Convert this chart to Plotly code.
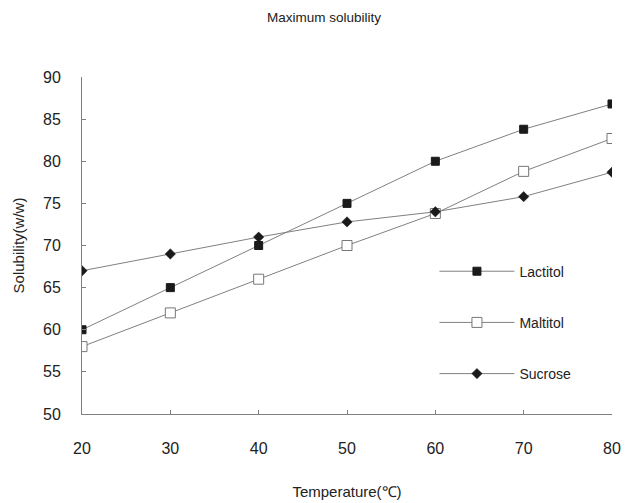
import plotly.graph_objects as go

temperature = [20, 30, 40, 50, 60, 70, 80]
lactitol = [60, 65, 70, 75, 80, 83.8, 86.8]
maltitol = [58, 62, 66, 70, 73.8, 78.8, 82.7]
sucrose = [67, 69, 71, 72.8, 74, 75.8, 78.7]

font_family = "Liberation Sans, Arial, sans-serif"
line_col = "#808080"

fig = go.Figure()
fig.add_trace(go.Scatter(
    x=temperature, y=lactitol, name="Lactitol", mode="lines+markers",
    legendgroup="a",
    line=dict(color=line_col, width=1),
    marker=dict(symbol="square", size=8, color="#1a1a1a", line=dict(color="#1a1a1a", width=1)),
))
fig.add_trace(go.Scatter(
    x=temperature, y=maltitol, name="Maltitol", mode="lines+markers",
    legendgroup="b",
    line=dict(color=line_col, width=1),
    marker=dict(symbol="square", size=10, color="white", line=dict(color="#777777", width=1)),
))
fig.add_trace(go.Scatter(
    x=temperature, y=sucrose, name="Sucrose", mode="lines+markers",
    legendgroup="c",
    line=dict(color=line_col, width=1),
    marker=dict(symbol="diamond", size=8, color="#1a1a1a", line=dict(color="#1a1a1a", width=0.5)),
))

fig.update_layout(
    width=632, height=503,
    margin=dict(l=74, r=28, t=69, b=97, autoexpand=False),
    paper_bgcolor="white", plot_bgcolor="white",
    font=dict(family=font_family, size=14, color="#222222"),
    title=dict(text="Maximum solubility", x=0.5, xanchor="center", y=0.99, yanchor="top",
               font=dict(size=13.5, color="#222222")),
    showlegend=True,
    legend=dict(x=0.665, y=0.47, xanchor="left", yanchor="top",
                bgcolor="rgba(0,0,0,0)", tracegroupgap=30,
                font=dict(size=14), itemwidth=75),
    xaxis=dict(
        range=[20, 80], tickvals=temperature, showgrid=False, zeroline=False,
        showline=True, linecolor=line_col, linewidth=1,
        ticks="inside", ticklen=4, tickcolor=line_col,
        ticklabelstandoff=20,
        title=dict(text="Temperature(℃)", standoff=30, font=dict(size=15)),
        tickfont=dict(size=16),
    ),
    yaxis=dict(
        range=[50, 90], dtick=5, showgrid=False, zeroline=False,
        showline=True, linecolor=line_col, linewidth=1,
        ticks="inside", ticklen=4, tickcolor=line_col,
        ticklabelstandoff=17,
        title=dict(text="Solubility(w/w)", standoff=14, font=dict(size=15)),
        tickfont=dict(size=16),
    ),
)

fig.write_html("out.html")
